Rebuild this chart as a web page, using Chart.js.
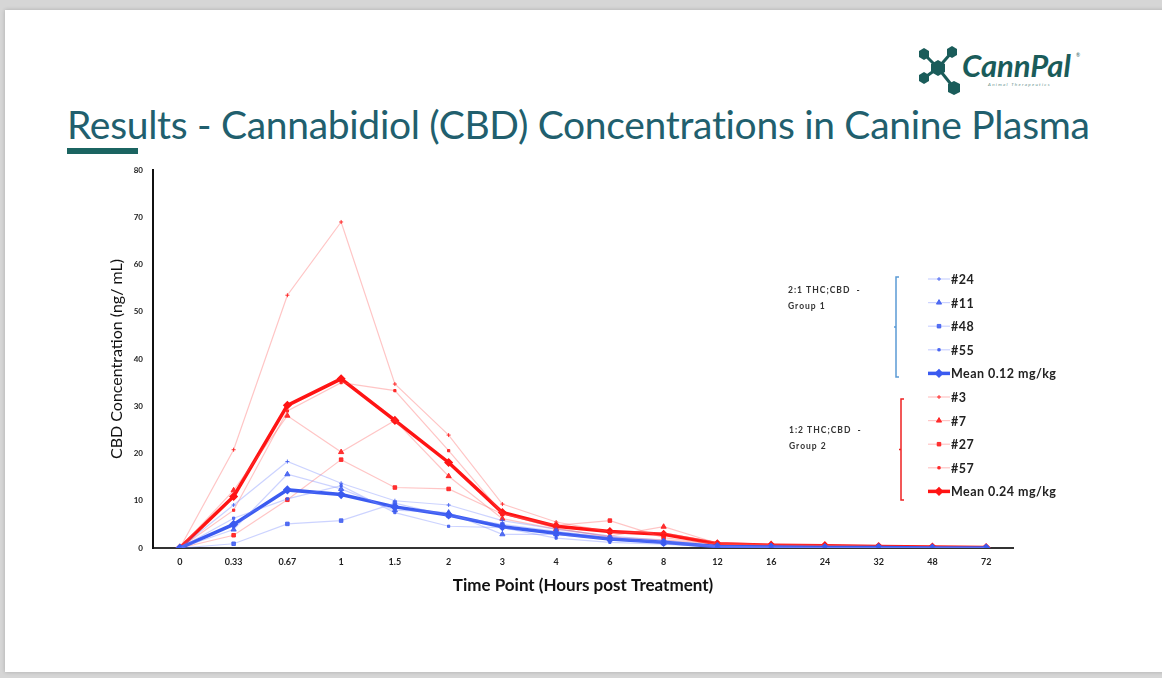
<!DOCTYPE html>
<html>
<head>
<meta charset="utf-8">
<script src="https://cdn.jsdelivr.net/npm/chart.js@4.4.1/dist/chart.umd.min.js"></script>
<style>
  html, body { margin: 0; padding: 0; }
  body { width: 1162px; height: 678px; background: #d6d6d6; position: relative; overflow: hidden; font-family: Lato, "Open Sans", sans-serif; }
  #slide { position: absolute; left: 5px; top: 10px; width: 1170px; height: 662px; background: #fff; box-shadow: 0 0 4px rgba(0,0,0,0.2); }
  #title { position: absolute; left: 67px; top: 101px; font-size: 39px; color: #215f6e; white-space: nowrap; letter-spacing: -0.3px; }
  #bar { position: absolute; left: 67px; top: 148px; width: 71px; height: 6px; background: #1b6461; }
  #logo { position: absolute; left: 912px; top: 40px; }
  #chartBox { position: absolute; left: 0; top: 0; width: 1162px; height: 678px; }
</style>
</head>
<body>
<div id="slide"></div>
<div id="title">Results - Cannabidiol (CBD) Concentrations in Canine Plasma</div>
<div id="bar"></div>
<svg id="logo" width="180" height="60" viewBox="0 0 180 60">
  <g stroke="#1a5c5a" stroke-width="3" fill="#1a5c5a">
    <line x1="26" y1="28" x2="12" y2="14"/>
    <line x1="26" y1="28" x2="40" y2="12"/>
    <line x1="26" y1="28" x2="12" y2="38"/>
    <line x1="26" y1="28" x2="42" y2="48"/>
  </g>
  <g fill="#1a5c5a">
    <polygon points="26,20 33,24 33,32 26,36 19,32 19,24"/>
    <polygon points="12,8 17,11 17,17 12,20 7,17 7,11"/>
    <polygon points="40,6 45,9 45,15 40,18 35,15 35,9"/>
    <polygon points="12,32 17,35 17,41 12,44 7,41 7,35"/>
    <polygon points="42,41 48,44 48,52 42,55 36,52 36,44"/>
  </g>
  <text x="50" y="37" font-family="Lato, sans-serif" font-weight="bold" font-style="italic" font-size="31" fill="#1a5c5a">CannPal</text>
  <text x="164" y="17" font-family="Lato, sans-serif" font-size="5" fill="#1a5c5a">®</text>
  <text x="76" y="46" font-family="Lato, sans-serif" font-style="italic" font-size="4.5" letter-spacing="1.3" fill="#5f8f8c">Animal Therapeutics</text>
</svg>
<div id="chartBox"><canvas id="cbdChart" width="1162" height="678"></canvas></div>
<script>
// time points (hours post treatment)
const timePoints = ['0', '0.33', '0.67', '1', '1.5', '2', '3', '4', '6', '8', '12', '16', '24', '32', '48', '72'];

// Group 1 - 2:1 THC;CBD
const dog24 = [0, 9.1, 18.3, 13.7, 10.0, 9.1, 5.8, 4.0, 2.5, 1.6, 0.4, 0.2, 0.1, 0.1, 0, 0];
const dog11 = [0, 3.9, 15.6, 12.5, 8.0, 7.5, 2.9, 2.9, 1.8, 1.0, 0.3, 0.2, 0.1, 0.1, 0, 0];
const dog48 = [0, 0.9, 5.1, 5.8, 9.5, 6.8, 5.0, 3.5, 2.2, 1.3, 0.4, 0.2, 0.1, 0, 0, 0];
const dog55 = [0, 6.3, 10.4, 13.2, 7.5, 4.6, 4.3, 2.1, 1.2, 0.8, 0.2, 0.1, 0.1, 0, 0, 0];
const meanGroup1 = [0, 5.0, 12.3, 11.3, 8.7, 7.0, 4.5, 3.1, 1.9, 1.2, 0.3, 0.2, 0.1, 0.1, 0, 0];

// Group 2 - 1:2 THC;CBD
const dog3 = [0, 20.8, 53.5, 69, 34.7, 23.9, 9.3, 5.5, 3.4, 3.2, 1.2, 0.7, 0.6, 0.4, 0.3, 0.1];
const dog7 = [0, 12.2, 28, 20.3, 27, 15.2, 6.2, 4.0, 2.5, 4.5, 1.0, 0.6, 0.5, 0.3, 0.2, 0.1];
const dog27 = [0, 2.7, 10.2, 18.7, 12.8, 12.5, 7.2, 4.8, 5.8, 2.2, 0.8, 0.5, 0.4, 0.3, 0.2, 0.1];
const dog57 = [0, 8, 29, 35, 33.3, 20.6, 7.3, 4.2, 2.3, 1.7, 0.8, 0.5, 0.4, 0.3, 0.2, 0.1];
const meanGroup2 = [0, 10.9, 30.2, 35.8, 27, 18.1, 7.5, 4.6, 3.5, 2.9, 0.9, 0.6, 0.5, 0.3, 0.2, 0.1];

const yTicks = [0, 10, 20, 30, 40, 50, 60, 70, 80];

const blueLine = 'rgba(110,130,255,0.35)';
const bluePt = 'rgba(60,90,240,0.85)';
const redLine = 'rgba(255,90,90,0.35)';
const redPt = 'rgba(255,30,30,0.9)';

function dogSet(label, data, line, pt, style, r) {
    return {
        label: label,
        data: data,
        borderColor: line,
        backgroundColor: pt,
        pointBorderColor: pt,
        pointBackgroundColor: pt,
        pointStyle: style,
        pointRadius: r,
        borderWidth: 1.2,
        pointBorderWidth: 1,
        fill: false,
        tension: 0
    };
}

function meanSet(label, data, color) {
    return {
        label: label,
        data: data,
        borderColor: color,
        backgroundColor: color,
        pointBorderColor: color,
        pointBackgroundColor: color,
        pointStyle: 'rectRot',
        pointRadius: 3.5,
        borderWidth: 3.5,
        pointBorderWidth: 1.5,
        fill: false,
        tension: 0
    };
}

const datasets = [
    dogSet('#24', dog24, blueLine, bluePt, 'cross', 2),
    dogSet('#11', dog11, blueLine, bluePt, 'triangle', 3),
    dogSet('#48', dog48, blueLine, bluePt, 'rect', 2.5),
    dogSet('#55', dog55, blueLine, bluePt, 'rect', 1.6),
    meanSet('Mean 0.12 mg/kg', meanGroup1, '#3b5bf0'),
    dogSet('#3', dog3, redLine, redPt, 'cross', 2),
    dogSet('#7', dog7, redLine, redPt, 'triangle', 3),
    dogSet('#27', dog27, redLine, redPt, 'rect', 2.5),
    dogSet('#57', dog57, redLine, redPt, 'rect', 1.6),
    meanSet('Mean 0.24 mg/kg', meanGroup2, '#ff1414')
];

// legend drawn inside the plot, with the two group brackets
const groupLegend = {
    id: 'groupLegend',
    afterDraw(chart) {
        const c = chart.ctx;
        c.save();
        const x0 = 928, x1 = 950, top = 279, step = 23.6;
        chart.data.datasets.forEach((ds, i) => {
            const y = top + i * step;
            c.strokeStyle = ds.borderColor;
            c.lineWidth = ds.borderWidth;
            c.beginPath();
            c.moveTo(x0, y);
            c.lineTo(x1, y);
            c.stroke();
            c.fillStyle = ds.pointBackgroundColor;
            c.strokeStyle = ds.pointBorderColor;
            c.lineWidth = ds.pointBorderWidth;
            Chart.helpers.drawPoint(c, { pointStyle: ds.pointStyle, radius: ds.pointRadius, borderWidth: ds.pointBorderWidth, rotation: 0 }, (x0 + x1) / 2, y);
            c.fillStyle = '#222';
            c.font = 'bold 12.5px Lato, sans-serif';
            c.letterSpacing = '0.45px';
            c.textBaseline = 'middle';
            c.fillText(ds.label, 951, y + 1);
        });

        // brackets
        function bracket(x, y0, y1, color) {
            c.strokeStyle = color;
            c.lineWidth = 1.5;
            c.beginPath();
            c.moveTo(x + 3, y0);
            c.lineTo(x, y0);
            c.lineTo(x, y1);
            c.lineTo(x + 3, y1);
            c.moveTo(x, (y0 + y1) / 2);
            c.lineTo(x - 2, (y0 + y1) / 2);
            c.stroke();
        }
        bracket(896, 277, 377, '#5b9bd5');
        bracket(901, 399, 500, '#ee2222');

        c.fillStyle = '#333';
        c.font = 'bold 8.5px Lato, sans-serif';
        c.letterSpacing = '1px';
        c.textBaseline = 'middle';
        c.fillText('2:1 THC;CBD  -', 788, 290);
        c.fillText('Group 1', 788, 306);
        c.fillText('1:2 THC;CBD  -', 789, 430);
        c.fillText('Group 2', 789, 446);
        c.restore();
    }
};

new Chart(document.getElementById('cbdChart').getContext('2d'), {
    type: 'line',
    data: {
        labels: timePoints,
        datasets: datasets
    },
    options: {
        responsive: false,
        animation: false,
        layout: {
            padding: { left: 107, top: 170, right: 149, bottom: 82 }
        },
        scales: {
            x: {
                offset: true,
                grid: { display: false, drawTicks: false },
                border: { display: true, color: '#333', width: 2 },
                ticks: {
                    color: '#222',
                    padding: 9,
                    font: { family: 'Lato', size: 9, weight: 'bold' },
                    maxRotation: 0,
                    autoSkip: false
                },
                title: {
                    display: true,
                    text: 'Time Point (Hours post Treatment)',
                    color: '#111',
                    font: { family: 'Lato', size: 17, weight: 'bold' },
                    padding: { top: 4, bottom: 0 }
                },
                afterFit(scale) { scale.height = 48; }
            },
            y: {
                min: 0,
                max: 80,
                grid: { display: false, drawOnChartArea: false, drawTicks: true, tickLength: 4, color: '#222' },
                border: { display: true, color: '#111', width: 2 },
                afterBuildTicks(scale) { scale.ticks = yTicks.map(v => ({ value: v })); },
                ticks: {
                    color: '#222',
                    padding: 6,
                    font: { family: 'Lato', size: 8, weight: 'bold' }
                },
                title: {
                    display: true,
                    text: 'CBD Concentration (ng/ mL)',
                    color: '#111',
                    font: { family: 'Lato', size: 16 },
                    padding: { top: 0, bottom: 3 }
                },
                afterFit(scale) { scale.width = 46; }
            }
        },
        plugins: {
            legend: { display: false },
            tooltip: { enabled: false }
        }
    },
    plugins: [groupLegend]
});
</script>
</body>
</html>
